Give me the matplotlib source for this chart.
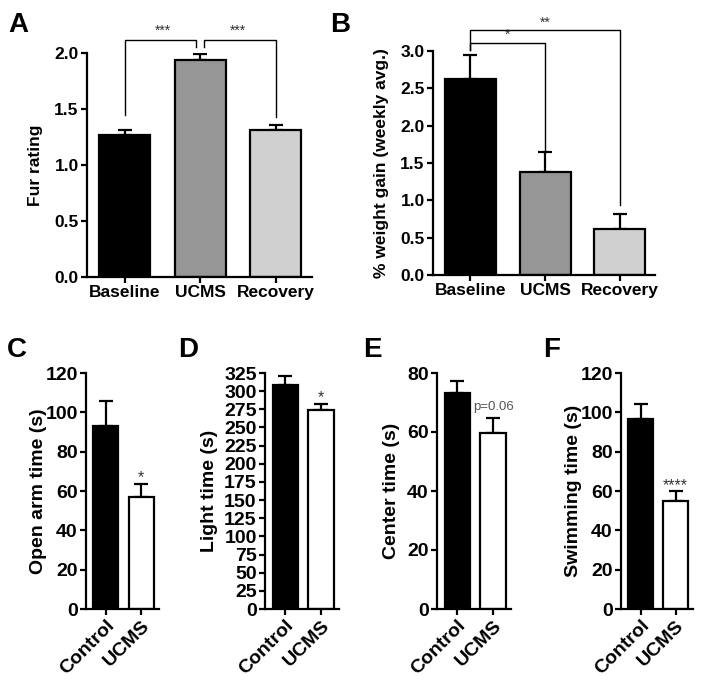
import matplotlib
matplotlib.use('Agg')
import matplotlib.pyplot as plt
import numpy as np

plt.rcParams['font.family'] = ['Liberation Sans', 'DejaVu Sans']

# Panel A / B: three phases
phases = ['Baseline', 'UCMS', 'Recovery']
phase_colors = ['#000000', '#969696', '#d0d0d0']
fur_mean = [1.27, 1.935, 1.315]
fur_sem = [0.04, 0.06, 0.04]
weight_mean = [2.625, 1.375, 0.615]
weight_sem = [0.325, 0.275, 0.205]

# Panels C-F: control vs UCMS
groups = ['Control', 'UCMS']
group_colors = ['#000000', '#ffffff']
open_arm_mean = [92.8, 57.2]
open_arm_sem = [13.2, 6.5]
light_mean = [308.5, 274.0]
light_sem = [12.0, 8.5]
center_mean = [73.2, 59.5]
center_sem = [4.2, 5.4]
swim_mean = [96.8, 55.1]
swim_sem = [7.4, 4.7]

W, H = 701, 684
fig = plt.figure(figsize=(W / 100, H / 100), dpi=100)


def px_axes(left, right, top, bottom):
    return fig.add_axes([left / W, (H - bottom) / H, (right - left) / W, (bottom - top) / H])


def style_axes(ax, fs):
    for s in ['top', 'right']:
        ax.spines[s].set_visible(False)
    for s in ['left', 'bottom']:
        ax.spines[s].set_linewidth(1.6)
    ax.tick_params(axis='both', width=1.6, length=4, labelsize=fs, pad=2)
    for lab in ax.get_xticklabels() + ax.get_yticklabels():
        lab.set_fontweight('bold')


def draw_bars(ax, names, means, sems, colors, width):
    x = np.arange(len(names))
    ax.errorbar(x, means, yerr=[np.zeros(len(sems)), sems], fmt='none',
                ecolor='black', elinewidth=1.6, capsize=5, capthick=1.6, zorder=1)
    ax.bar(x, means, width=width, color=colors, edgecolor='black', linewidth=1.6, zorder=2)
    ax.set_xticks(x)
    return x


def bracket(ax, x0, x1, y, y0, y1):
    ax.plot([x0, x0, x1, x1], [y0, y, y, y1], color='black', lw=1.0, clip_on=False)


# ---- A: fur rating
axA = px_axes(87, 312, 53, 277)
draw_bars(axA, phases, fur_mean, fur_sem, phase_colors, 0.68)
axA.set_xlim(-0.5, 2.48)
axA.set_ylim(0, 2.0)
axA.set_yticks(np.arange(0, 2.01, 0.5))
axA.set_yticklabels([f'{v:.1f}' for v in np.arange(0, 2.01, 0.5)])
axA.set_xticklabels(phases)
axA.set_ylabel('Fur rating', fontsize=12.5, fontweight='bold', labelpad=8)
style_axes(axA, 12.5)
bracket(axA, 0, 0.95, 2.12, 1.445, 2.05)
bracket(axA, 1.05, 2, 2.12, 2.05, 1.43)
axA.text(0.5, 2.14, '***', ha='center', va='bottom', fontsize=10, color='#333333')
axA.text(1.5, 2.14, '***', ha='center', va='bottom', fontsize=10, color='#333333')

# ---- B: weight gain
axB = px_axes(433, 655, 51, 275)
draw_bars(axB, phases, weight_mean, weight_sem, phase_colors, 0.68)
axB.set_xlim(-0.5, 2.47)
axB.set_ylim(0, 3.0)
axB.set_yticks(np.arange(0, 3.01, 0.5))
axB.set_yticklabels([f'{v:.1f}' for v in np.arange(0, 3.01, 0.5)])
axB.set_xticklabels(phases)
axB.set_ylabel('% weight gain (weekly avg.)', fontsize=12.5, fontweight='bold', labelpad=8)
style_axes(axB, 12.5)
bracket(axB, 0, 1, 3.11, 3.01, 1.67)
bracket(axB, 0, 2, 3.28, 3.01, 0.94)
axB.text(0.5, 3.12, '*', ha='center', va='bottom', fontsize=10, color='#333333')
axB.text(1.0, 3.29, '**', ha='center', va='bottom', fontsize=10, color='#333333')

# ---- C-F
bottom_panels = [
    (86, 159, open_arm_mean, open_arm_sem, 120, 20, 'Open arm time (s)', '*', -1),
    (265, 339, light_mean, light_sem, 325, 25, 'Light time (s)', '*', 4),
    (437, 511, center_mean, center_sem, 80, 20, 'Center time (s)', 'p=0.06', 5),
    (621, 693, swim_mean, swim_sem, 120, 20, 'Swimming time (s)', '****', -1),
]
for left, right, means, sems, ymax, step, ylabel, sig, pad in bottom_panels:
    ax = px_axes(left, right, 373, 609)
    draw_bars(ax, groups, means, sems, group_colors, 0.7)
    ax.set_xlim(-0.56, 1.5)
    ax.set_ylim(0, ymax)
    ax.set_yticks(np.arange(0, ymax + 1, step))
    ax.set_xticklabels(groups, rotation=45, ha='right', rotation_mode='anchor')
    ax.set_ylabel(ylabel, fontsize=14, fontweight='bold', labelpad=pad)
    style_axes(ax, 14)
    if sig.startswith('p'):
        ax.annotate(sig, xy=(1, means[1] + sems[1]), xytext=(0, 3), textcoords='offset points',
                    ha='center', va='bottom', fontsize=9.5, color='#555555')
    else:
        ax.annotate(sig, xy=(1, means[1] + sems[1]), xytext=(0, -1), textcoords='offset points',
                    ha='center', va='bottom', fontsize=11.5, color='#333333')

# panel letters
for letter, lx, ly in [('A', 8, 12), ('B', 330, 12), ('C', 7, 337),
                       ('D', 178, 337), ('E', 363, 337), ('F', 543, 337)]:
    fig.text(lx / W, 1 - ly / H, letter, fontsize=20, fontweight='bold', ha='left', va='top')

fig.savefig('out.png', dpi=100)
